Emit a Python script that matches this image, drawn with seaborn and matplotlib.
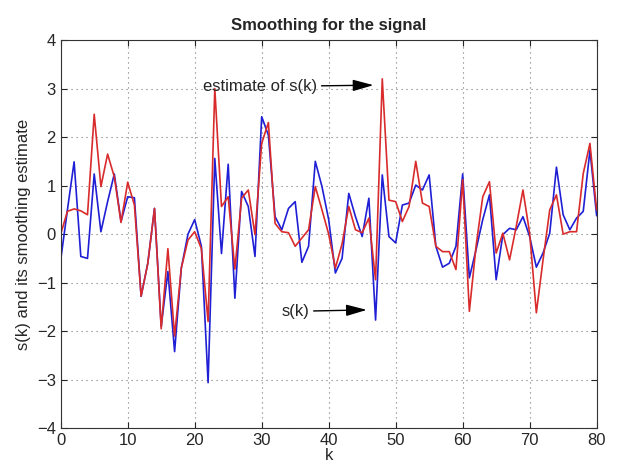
# Smoothing for the signal: s(k) and its smoothing estimate
import matplotlib
matplotlib.use("Agg")
import matplotlib.pyplot as plt
import numpy as np
import pandas as pd
import seaborn as sns

k = np.arange(0, 81)

s_values = [
    -0.53, 0.5, 1.49, -0.46, -0.5, 1.24, 0.05, 0.67, 1.24, 0.26,
    0.77, 0.75, -1.28, -0.6, 0.53, -1.9, -0.77, -2.42, -0.7, 0.0,
    0.3, -0.25, -3.06, 1.56, -0.4, 1.44, -1.32, 0.88, 0.57, -0.46,
    2.42, 2.04, 0.36, 0.09, 0.53, 0.67, -0.58, -0.25, 1.5, 0.98,
    0.3, -0.8, -0.5, 0.84, 0.36, -0.05, 0.74, -1.77, 1.22, -0.05,
    -0.18, 0.6, 0.64, 1.01, 0.91, 1.22, -0.25, -0.68, -0.6, -0.25,
    1.24, -0.9, -0.32, 0.3, 0.81, -0.94, -0.01, 0.12, 0.09, 0.36,
    -0.05, -0.68, -0.39, 0.02, 1.38, 0.4, 0.09, 0.33, 0.47, 1.73,
    0.38,
]

est_values = [
    0.0, 0.47, 0.52, 0.48, 0.4, 2.47, 0.98, 1.65, 1.18, 0.24,
    1.07, 0.6, -1.28, -0.6, 0.53, -1.95, -0.3, -2.1, -0.7, -0.12,
    0.05, -0.3, -1.8, 3.0, 0.57, 0.77, -0.72, 0.74, 0.91, -0.01,
    1.87, 2.3, 0.22, 0.05, 0.03, -0.25, -0.08, 0.09, 0.98, 0.5,
    0.0, -0.7, -0.2, 0.57, 0.09, 0.03, 0.33, -0.94, 3.2, 0.7,
    0.67, 0.26, 0.57, 1.5, 0.64, 0.57, -0.25, -0.36, -0.36, -0.73,
    1.12, -1.59, -0.25, 0.77, 1.08, -0.39, 0.02, -0.53, 0.16, 0.91,
    0.02, -1.62, -0.53, 0.5, 0.81, 0.0, 0.05, 0.05, 1.25, 1.87,
    0.5,
]

df = pd.DataFrame({"k": k, "s": s_values, "estimate": est_values})

sns.set_style("ticks")
plt.rcParams["font.family"] = ["Liberation Sans", "DejaVu Sans"]

fig = plt.figure(figsize=(6.17, 4.69), dpi=100)
ax = fig.add_axes([0.0984, 0.0868, 0.8686, 0.8279])

sns.lineplot(data=df, x="k", y="s", color="#1f1fd6", linewidth=1.2, ax=ax)
sns.lineplot(data=df, x="k", y="estimate", color="#d92b2b", linewidth=1.2, ax=ax)

ax.set_xlim(0, 80)
ax.set_ylim(-4, 4)
ax.set_xticks(range(0, 81, 10))
ax.set_yticks(range(-4, 5))
ax.grid(True, color="#777777", linestyle=(0, (1, 3.5)), linewidth=0.8)
ax.tick_params(direction="in", top=True, right=True, labelsize=12, length=4)
for spine in ax.spines.values():
    spine.set_visible(True)
    spine.set_linewidth(0.8)
    spine.set_color("#333333")

ax.set_title("Smoothing for the signal", fontsize=12, fontweight="bold", pad=7)
ax.set_xlabel("k", fontsize=12, labelpad=0)
ax.set_ylabel("s(k) and its smoothing estimate", fontsize=12, labelpad=4)

arrow = dict(arrowstyle="-|>,head_length=0.9,head_width=0.25", color="black",
             lw=1.0, mutation_scale=14, shrinkA=1, shrinkB=1)
ax.annotate("estimate of s(k)", xy=(46.9, 3.07), xytext=(21.2, 3.04),
            ha="left", va="center", fontsize=12, arrowprops=arrow)
ax.annotate("s(k)", xy=(45.9, -1.56), xytext=(32.9, -1.59),
            ha="left", va="center", fontsize=12, arrowprops=arrow)

fig.savefig("out.png", dpi=100)
plt.close(fig)
